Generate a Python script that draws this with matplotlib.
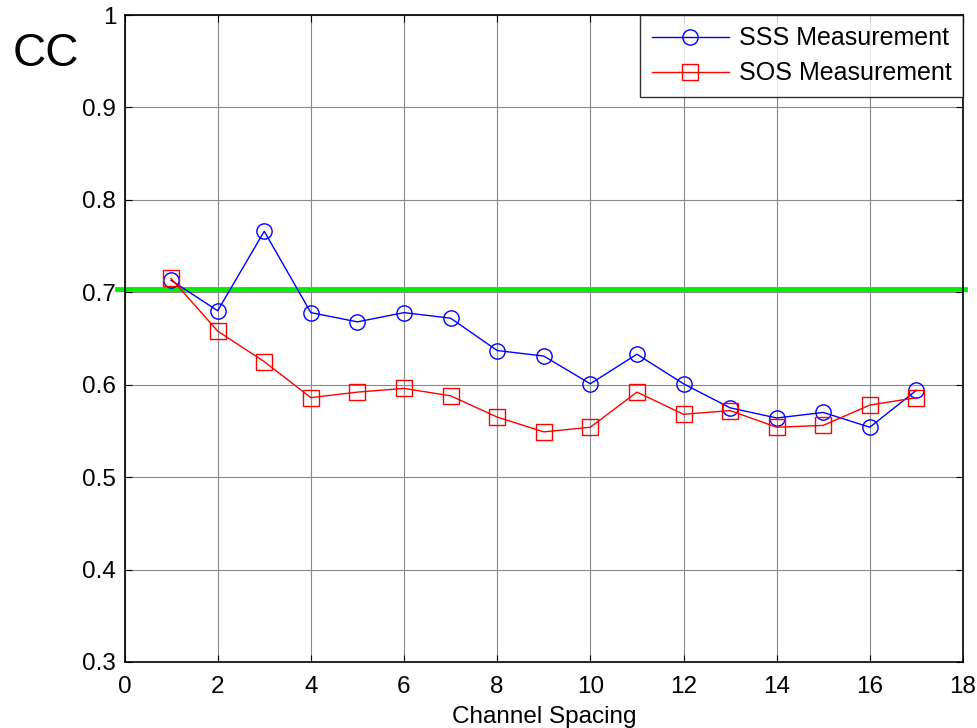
import matplotlib
matplotlib.use("Agg")
import matplotlib.pyplot as plt

plt.rcParams['font.family'] = ['Liberation Sans', 'DejaVu Sans']

x = list(range(1, 18))
sss = [0.713, 0.680, 0.766, 0.678, 0.668, 0.678, 0.672, 0.637, 0.631,
       0.601, 0.633, 0.601, 0.575, 0.564, 0.570, 0.554, 0.594]
sos = [0.715, 0.658, 0.625, 0.586, 0.592, 0.596, 0.588, 0.565, 0.549,
       0.554, 0.592, 0.568, 0.572, 0.554, 0.556, 0.578, 0.586]
threshold = 0.704
xticks = [0, 2, 4, 6, 8, 10, 12, 14, 16, 18]
yticks = [0.3, 0.4, 0.5, 0.6, 0.7, 0.8, 0.9, 1]
ytick_labels = ['0.3', '0.4', '0.5', '0.6', '0.7', '0.8', '0.9', '1']

fig = plt.figure(figsize=(9.77, 7.28), dpi=100)
ax = fig.add_axes([124.5/977, 1-662/728, (963-124.5)/977, (662-15)/728])

ax.plot(x, sss, color='blue', lw=1, marker='o', ms=11, mfc='none', mew=1,
        label='SSS Measurement', zorder=3)
ax.plot(x, sos, color='red', lw=1, marker='s', ms=11, mfc='none', mew=1,
        label='SOS Measurement', zorder=3)
ax.plot([-0.16, 18.05], [threshold, threshold], color='#00ee00', lw=3.5,
        clip_on=False, zorder=2)

ax.set_xlim(0, 18)
ax.set_ylim(0.3, 1)
ax.set_xticks(xticks)
ax.set_yticks(yticks)
ax.set_yticklabels(ytick_labels)
ax.grid(True, color='#888888', lw=0.8, ls='-')
ax.tick_params(direction='in', top=True, right=True, labelsize=17.5, length=5)
ax.tick_params(axis='x', pad=10)
ax.tick_params(axis='y', pad=6)
for s in ax.spines.values():
    s.set_linewidth(1.2)

ax.set_xlabel('Channel Spacing', fontsize=17.5, labelpad=6)
fig.text(46/977, 1-54/728, 'CC', fontsize=33, ha='center', va='center')

leg = ax.legend(loc='upper right', fontsize=18, frameon=True, fancybox=False,
                edgecolor='black', borderaxespad=0, handlelength=3.1,
                handletextpad=0.4, borderpad=0.45, labelspacing=0.45)
leg.get_frame().set_linewidth(1.0)

fig.savefig('out.png', dpi=100)
